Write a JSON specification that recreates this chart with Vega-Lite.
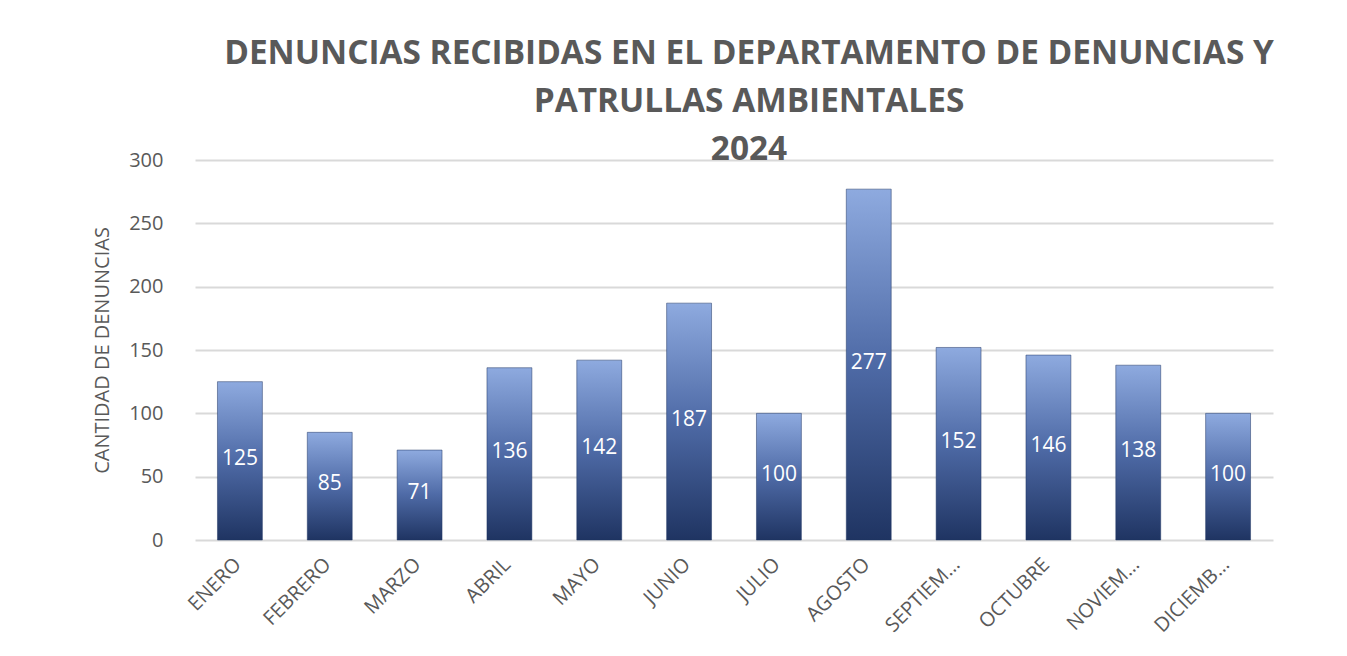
{
  "$schema": "https://vega.github.io/schema/vega-lite/v6.json",
  "width": 1078,
  "height": 380,
  "autosize": {"type": "none"},
  "padding": {"left": 195, "top": 160, "right": 74, "bottom": 116},
  "background": "white",
  "title": {
    "text": ["DENUNCIAS RECIBIDAS EN EL DEPARTAMENTO DE DENUNCIAS Y", "PATRULLAS AMBIENTALES", "2024"],
    "anchor": "middle",
    "frame": "group",
    "font": "Open Sans",
    "fontWeight": "bold",
    "fontSize": 33.4,
    "lineHeight": 48,
    "color": "#595959",
    "offset": -17,
    "dx": 15
  },
  "data": {
    "values": [
      {"mes": "ENERO", "denuncias": 125},
      {"mes": "FEBRERO", "denuncias": 85},
      {"mes": "MARZO", "denuncias": 71},
      {"mes": "ABRIL", "denuncias": 136},
      {"mes": "MAYO", "denuncias": 142},
      {"mes": "JUNIO", "denuncias": 187},
      {"mes": "JULIO", "denuncias": 100},
      {"mes": "AGOSTO", "denuncias": 277},
      {"mes": "SEPTIEM…", "denuncias": 152},
      {"mes": "OCTUBRE", "denuncias": 146},
      {"mes": "NOVIEM…", "denuncias": 138},
      {"mes": "DICIEMB…", "denuncias": 100}
    ]
  },
  "encoding": {
    "x": {
      "field": "mes",
      "type": "nominal",
      "sort": null,
      "scale": {"paddingInner": 0.5, "paddingOuter": 0.25},
      "axis": {
        "title": null,
        "labelAngle": -45,
        "labelFont": "Open Sans",
        "labelFontSize": 20,
        "labelColor": "#595959",
        "ticks": false,
        "domain": false,
        "labelPadding": 14,
        "labelOffset": -9
      }
    }
  },
  "layer": [
    {
      "mark": {
        "type": "bar",
        "stroke": "#1f3563",
        "strokeWidth": 0.5,
        "color": {
          "gradient": "linear",
          "x1": 0, "y1": 0, "x2": 0, "y2": 1,
          "stops": [
            {"offset": 0, "color": "#8eaadf"},
            {"offset": 0.5, "color": "#4e6aa6"},
            {"offset": 1, "color": "#1f3462"}
          ]
        }
      },
      "encoding": {
        "y": {
          "field": "denuncias",
          "type": "quantitative",
          "scale": {"domain": [0, 300]},
          "axis": {
            "title": "CANTIDAD DE DENUNCIAS",
            "titleFont": "Open Sans",
            "titleFontSize": 20,
            "titleFontWeight": "normal",
            "titleColor": "#595959",
            "titlePadding": 16,
            "values": [0, 50, 100, 150, 200, 250, 300],
            "labelFont": "Open Sans",
            "labelFontSize": 20,
            "labelColor": "#595959",
            "labelPadding": 32,
            "ticks": false,
            "domain": false,
            "gridColor": "#d9d9d9",
            "gridWidth": 2
          }
        }
      }
    },
    {
      "mark": {
        "type": "text",
        "font": "Open Sans",
        "fontSize": 21,
        "color": "white",
        "baseline": "middle",
        "dy": -2
      },
      "encoding": {
        "y": {
          "field": "denuncias",
          "type": "quantitative",
          "scale": {"domain": [0, 600]},
          "axis": null
        },
        "text": {"field": "denuncias", "type": "quantitative"}
      }
    }
  ],
  "resolve": {"scale": {"y": "independent"}},
  "config": {"view": {"stroke": null}}
}
